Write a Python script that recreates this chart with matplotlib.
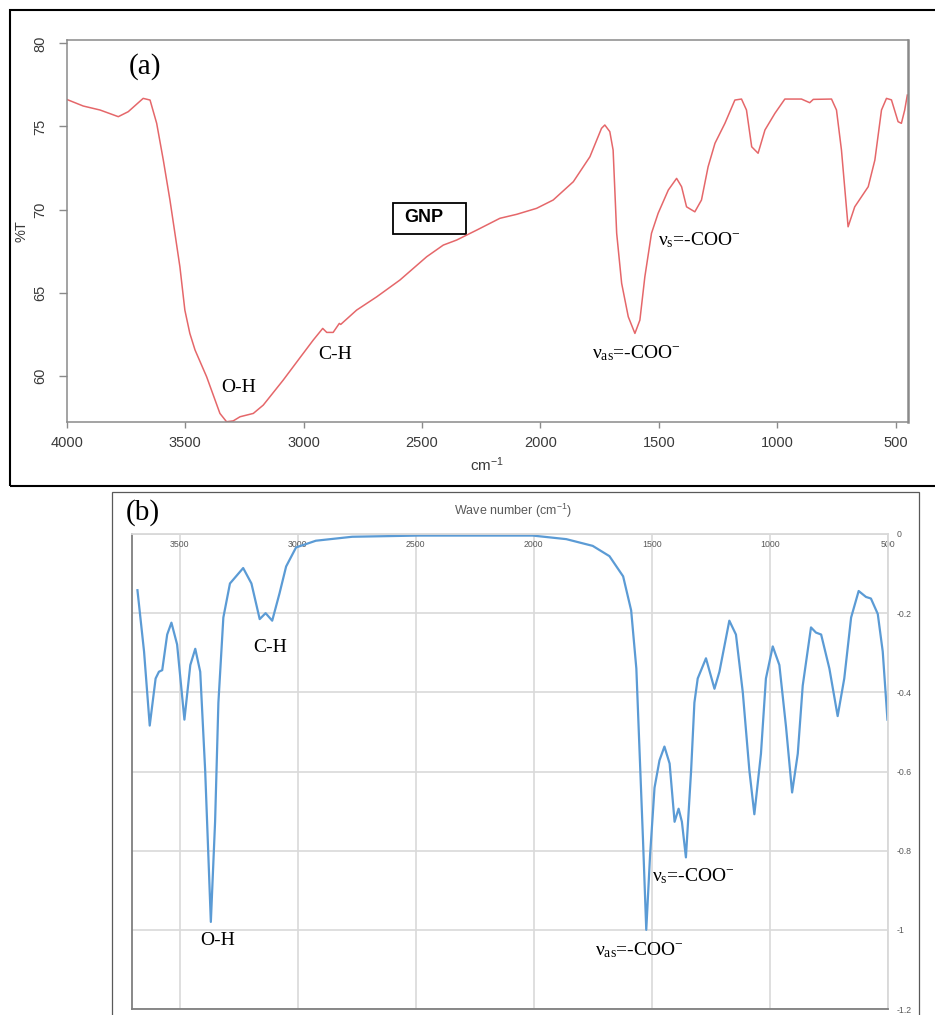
import matplotlib
matplotlib.use("Agg")
import matplotlib.pyplot as plt
from matplotlib.patches import Rectangle

plt.rcParams['font.family'] = ['Liberation Sans', 'DejaVu Sans']
plt.rcParams['mathtext.fontset'] = 'custom'
plt.rcParams['mathtext.rm'] = 'Liberation Serif'
plt.rcParams['mathtext.it'] = 'Liberation Serif:italic'
plt.rcParams['mathtext.sf'] = 'Liberation Sans'

# ---- panel (a): GNP transmittance spectrum ----
wn_a = [4000, 3930, 3859, 3782, 3740, 3677, 3648, 3620, 3592, 3564, 3543, 3522,
        3501, 3480, 3458, 3409, 3353, 3325, 3297, 3268, 3212, 3170, 3086, 3015,
        2959, 2919, 2902, 2875, 2849, 2843, 2776, 2691, 2593, 2480, 2410, 2354,
        2269, 2171, 2100, 2016, 1946, 1861, 1791, 1742, 1728, 1707, 1693, 1678,
        1657, 1629, 1601, 1580, 1559, 1531, 1503, 1460, 1425, 1404, 1383, 1348,
        1320, 1292, 1263, 1221, 1179, 1151, 1130, 1108, 1081, 1052, 1010, 968,
        898, 863, 848, 771, 750, 729, 701, 673, 616, 588, 560, 539, 518, 490,
        476, 462, 451]
t_a = [76.63, 76.23, 75.99, 75.59, 75.89, 76.69, 76.59, 75.19, 72.98, 70.58, 68.58, 66.57,
       63.96, 62.56, 61.56, 59.95, 57.75, 57.25, 57.30, 57.55, 57.75, 58.25, 59.75, 61.10,
       62.16, 62.86, 62.62, 62.62, 63.16, 63.10, 63.96, 64.76, 65.77, 67.17, 67.87, 68.17,
       68.77, 69.48, 69.72, 70.08, 70.58, 71.68, 73.18, 74.89, 75.09, 74.69, 73.58, 68.58,
       65.57, 63.56, 62.56, 63.36, 65.97, 68.58, 69.78, 71.18, 71.88, 71.38, 70.17, 69.87,
       70.58, 72.58, 73.99, 75.19, 76.59, 76.65, 75.99, 73.78, 73.39, 74.79, 75.79, 76.65,
       76.65, 76.43, 76.63, 76.65, 75.99, 73.58, 68.97, 70.17, 71.38, 72.98, 75.99, 76.69,
       76.60, 75.29, 75.19, 75.99, 76.89]
xticks_a = [4000, 3500, 3000, 2500, 2000, 1500, 1000, 500]
yticks_a = [60, 65, 70, 75, 80]

# ---- panel (b): computed spectrum ----
wn_b = [3679, 3651, 3627, 3602, 3588, 3574, 3553, 3535, 3511, 3480, 3455, 3434,
        3413, 3392, 3368, 3350, 3336, 3315, 3287, 3231, 3196, 3161, 3136, 3108,
        3077, 3049, 3007, 2923, 2769, 2489, 2004, 1862, 1750, 1679, 1621, 1587,
        1565, 1551, 1537, 1523, 1507, 1488, 1467, 1446, 1424, 1403, 1386, 1372,
        1355, 1333, 1319, 1305, 1270, 1234, 1213, 1171, 1143, 1114, 1086, 1065,
        1037, 1016, 987, 959, 931, 905, 881, 860, 825, 804, 782, 747, 712, 684,
        655, 623, 592, 571, 542, 521, 501]
ab_b = [-0.142, -0.297, -0.484, -0.365, -0.348, -0.344, -0.254, -0.224, -0.279, -0.469, -0.331, -0.290,
        -0.348, -0.598, -0.980, -0.727, -0.426, -0.211, -0.125, -0.086, -0.125, -0.215, -0.200, -0.219,
        -0.150, -0.082, -0.034, -0.017, -0.007, -0.004, -0.004, -0.013, -0.030, -0.056, -0.107, -0.193,
        -0.340, -0.555, -0.770, -1.000, -0.813, -0.641, -0.572, -0.537, -0.580, -0.727, -0.694, -0.727,
        -0.817, -0.598, -0.426, -0.365, -0.314, -0.391, -0.348, -0.219, -0.254, -0.400, -0.598, -0.708,
        -0.555, -0.365, -0.284, -0.331, -0.486, -0.653, -0.555, -0.383, -0.236, -0.249, -0.254, -0.340,
        -0.460, -0.365, -0.211, -0.144, -0.159, -0.163, -0.202, -0.297, -0.469]
xticks_b = [3500, 3000, 2500, 2000, 1500, 1000, 500]
yticks_b = [0, -0.2, -0.4, -0.6, -0.8, -1, -1.2]
ylabels_b = ['0', '-0.2', '-0.4', '-0.6', '-0.8', '-1', '-1.2']

fig = plt.figure(figsize=(9.35, 10.15), dpi=100)

# frames around the two panels
fig.add_artist(Rectangle((0.0107, 0.5212), 1.0, 0.4690, transform=fig.transFigure,
                         fill=False, edgecolor='black', linewidth=1.5))
fig.add_artist(Rectangle((0.1193, -0.05), 0.8631, 0.5656, transform=fig.transFigure,
                         fill=False, edgecolor='#595959', linewidth=0.9))

# ---------------- (a) ----------------
ax1 = fig.add_axes([0.0713, 0.5845, 0.9001, 0.3761])
ax1.plot(wn_a, t_a, color='#e5676a', linewidth=1.1)
ax1.set_xlim(4000, 447)
ax1.set_ylim(57.25, 80.2)
ax1.set_xticks(xticks_a)
ax1.set_yticks(yticks_a)
for s in ax1.spines.values():
    s.set_color('#8a8a8a')
    s.set_linewidth(1.1)
ax1.spines['right'].set_linewidth(1.8)
ax1.tick_params(axis='x', length=4, width=1, color='#8a8a8a', pad=6,
                labelsize=10.5, labelcolor='#3a3a3a')
ax1.tick_params(axis='y', length=6, width=1, color='#8a8a8a', pad=8,
                labelsize=10.5, labelcolor='#3a3a3a', labelrotation=90)
for lab in ax1.get_yticklabels():
    lab.set_verticalalignment('center')
ax1.set_ylabel('%T', fontsize=10.5, color='#3a3a3a')
ax1.yaxis.set_label_coords(-0.045, 0.5)
ax1.set_xlabel(r'$\mathsf{cm^{-1}}$', fontsize=11, color='#3a3a3a', labelpad=4)

serif = 'Liberation Serif'
ax1.text(3273, 59.33, 'O-H', family=serif, fontsize=14, ha='center', va='center')
ax1.text(2867, 61.32, 'C-H', family=serif, fontsize=14, ha='center', va='center')
ax1.text(1594, 61.38, r'$\mathrm{\nu_{as}}$=-COO$^{-}$', family=serif, fontsize=14,
         ha='center', va='center')
ax1.text(1330, 68.17, r'$\mathrm{\nu_{s}}$=-COO$^{-}$', family=serif, fontsize=14,
         ha='center', va='center')
ax1.add_patch(Rectangle((0.3874, 0.4917), 0.0871, 0.0820, transform=ax1.transAxes,
                        fill=False, edgecolor='black', linewidth=1.3))
ax1.text(0.4242, 0.5337, 'GNP', transform=ax1.transAxes, fontsize=13,
         fontweight='bold', ha='center', va='center')
fig.text(145 / 935, 1 - 67 / 1015, '(a)', family=serif, fontsize=21,
         ha='center', va='center')

# ---------------- (b) ----------------
ax2 = fig.add_axes([0.1417, 0.0059, 0.8077, 0.4680])
ax2.plot(wn_b, ab_b, color='#5b9bd5', linewidth=1.6)
ax2.set_xlim(3700, 500)
ax2.set_ylim(-1.2, 0)
ax2.set_xticks(xticks_b)
ax2.set_yticks(yticks_b)
ax2.set_yticklabels(ylabels_b)
ax2.grid(True, color='#d9d9d9', linewidth=1.2)
ax2.set_axisbelow(True)
ax2.xaxis.tick_top()
ax2.yaxis.tick_right()
ax2.tick_params(axis='x', length=0, pad=-10.5, labelsize=6.3, labelcolor='#595959')
ax2.tick_params(axis='y', length=0, pad=6.5, labelsize=6.3, labelcolor='#595959')
ax2.spines['top'].set_color('#d9d9d9')
ax2.spines['right'].set_color('#d9d9d9')
ax2.spines['left'].set_color('#7f7f7f')
ax2.spines['bottom'].set_color('#7f7f7f')
for s in ax2.spines.values():
    s.set_linewidth(1.3)

ax2.text(3116, -0.286, 'C-H', family=serif, fontsize=14, ha='center', va='center')
ax2.text(3340, -1.028, 'O-H', family=serif, fontsize=14, ha='center', va='center')
ax2.text(1552, -1.052, r'$\mathrm{\nu_{as}}$=-COO$^{-}$', family=serif, fontsize=14,
         ha='center', va='center')
ax2.text(1323, -0.864, r'$\mathrm{\nu_{s}}$=-COO$^{-}$', family=serif, fontsize=14,
         ha='center', va='center')
fig.text(513 / 935, 1 - 510.5 / 1015, r'Wave number (cm$\mathsf{^{-1}}$)', fontsize=9,
         color='#595959', ha='center', va='center')
fig.text(143 / 935, 1 - 513 / 1015, '(b)', family=serif, fontsize=21,
         ha='center', va='center')

fig.savefig('out.png', dpi=100)
